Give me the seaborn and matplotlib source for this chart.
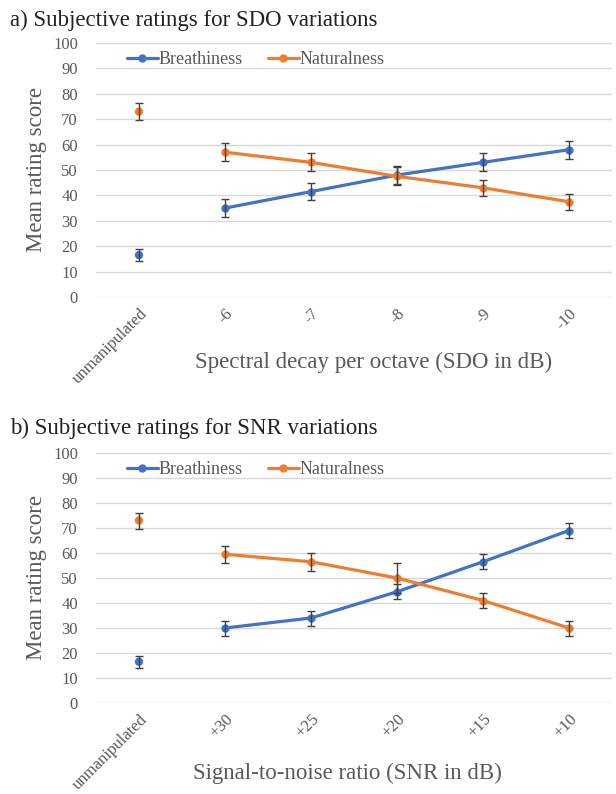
import numpy as np
import pandas as pd
import matplotlib
matplotlib.use("Agg")
import matplotlib.pyplot as plt
import seaborn as sns

sns.set_style("white")
plt.rcParams['font.family'] = ['Liberation Serif', 'DejaVu Serif']

# ---- data ----
sdo_labels = ['unmanipulated', '-6', '-7', '-8', '-9', '-10']
sdo_breath = [16.5, 35, 41.5, 48, 53, 58]
sdo_breath_err = [2.5, 3.5, 3.5, 3.5, 3.5, 3.5]
sdo_natural = [73, 57, 53, 47.5, 43, 37.5]
sdo_natural_err = [3.2, 3.5, 3.5, 3.5, 3.2, 3.2]

snr_labels = ['unmanipulated', '+30', '+25', '+20', '+15', '+10']
snr_breath = [16.5, 30, 34, 44.5, 56.5, 69]
snr_breath_err = [2.5, 3, 3, 3, 3, 3]
snr_natural = [73, 59.5, 56.5, 50, 41, 30]
snr_natural_err = [3.2, 3.5, 3.5, 6, 3, 3]

series_names = ['Breathiness', 'Naturalness']
colors = {'Breathiness': '#4472C4', 'Naturalness': '#ED7D31'}
gray = '#595959'

W, H = 616, 794
fig = plt.figure(figsize=(W / 100, H / 100), dpi=100)


def make_panel(top, bottom, title, title_y, xlabel, xlabel_x, xlabel_y,
               labels, breath, berr, natural, nerr):
    ax = fig.add_axes([96 / W, 1 - bottom / H, 516 / W, (bottom - top) / H])
    rows = []
    for name, vals, errs in [('Breathiness', breath, berr), ('Naturalness', natural, nerr)]:
        for i, (v, e) in enumerate(zip(vals, errs)):
            rows.append({'pos': i, 'score': v, 'err': e, 'attr': name})
    df = pd.DataFrame(rows)
    conn = df[df.pos > 0]
    base = df[df.pos == 0]

    sns.lineplot(data=conn, x='pos', y='score', hue='attr', hue_order=series_names,
                 palette=colors, marker='o', markersize=6, linewidth=2.3,
                 markeredgewidth=0, ax=ax, zorder=3)
    sns.scatterplot(data=base, x='pos', y='score', hue='attr', hue_order=series_names,
                    palette=colors, s=36, linewidth=0, legend=False, ax=ax, zorder=3)
    for name in series_names:
        d = df[df.attr == name]
        ax.errorbar(d.pos, d.score, yerr=d.err, fmt='none', ecolor='#404040',
                    elinewidth=1, capsize=3, capthick=1, zorder=4)

    ax.set_xlim(-0.5, 5.5)
    ax.set_ylim(0, 100)
    ax.set_yticks(range(0, 101, 10))
    ax.yaxis.grid(True, color='#D9D9D9', linewidth=1)
    ax.set_axisbelow(True)
    for s in ax.spines.values():
        s.set_visible(False)
    ax.set_xticks(range(len(labels)))
    ax.set_xticklabels(labels, rotation=45, ha='right', rotation_mode='anchor')
    ax.tick_params(axis='both', length=0, labelsize=12, colors=gray)
    ax.tick_params(axis='x', pad=6)
    ax.tick_params(axis='y', pad=13)
    ax.set_xlabel('')
    ax.set_ylabel('Mean rating score', fontsize=16.5, color=gray)
    ax.yaxis.set_label_coords((47 - 96) / 516, 0.5)

    handles, lbls = ax.get_legend_handles_labels()
    leg_y = (bottom - 60 - (top - 43)) / (bottom - top)
    ax.legend(handles, lbls, loc='center left', bbox_to_anchor=(0.06, leg_y), ncol=2,
              frameon=False, fontsize=13, labelcolor=gray, handlelength=1.7,
              handletextpad=0.05, columnspacing=1.4, borderaxespad=0, borderpad=0)

    fig.text(10 / W, 1 - title_y / H, title, fontsize=16.5, color='#222222',
             va='center', ha='left')
    fig.text(xlabel_x / W, 1 - xlabel_y / H, xlabel, fontsize=16.5, color=gray,
             va='center', ha='center')
    return ax


make_panel(43, 297, 'a) Subjective ratings for SDO variations', 20,
           'Spectral decay per octave (SDO in dB)', 374, 362,
           sdo_labels, sdo_breath, sdo_breath_err, sdo_natural, sdo_natural_err)

make_panel(453, 703, 'b) Subjective ratings for SNR variations', 428,
           'Signal-to-noise ratio (SNR in dB)', 347, 773,
           snr_labels, snr_breath, snr_breath_err, snr_natural, snr_natural_err)

fig.savefig('out.png', dpi=100)
